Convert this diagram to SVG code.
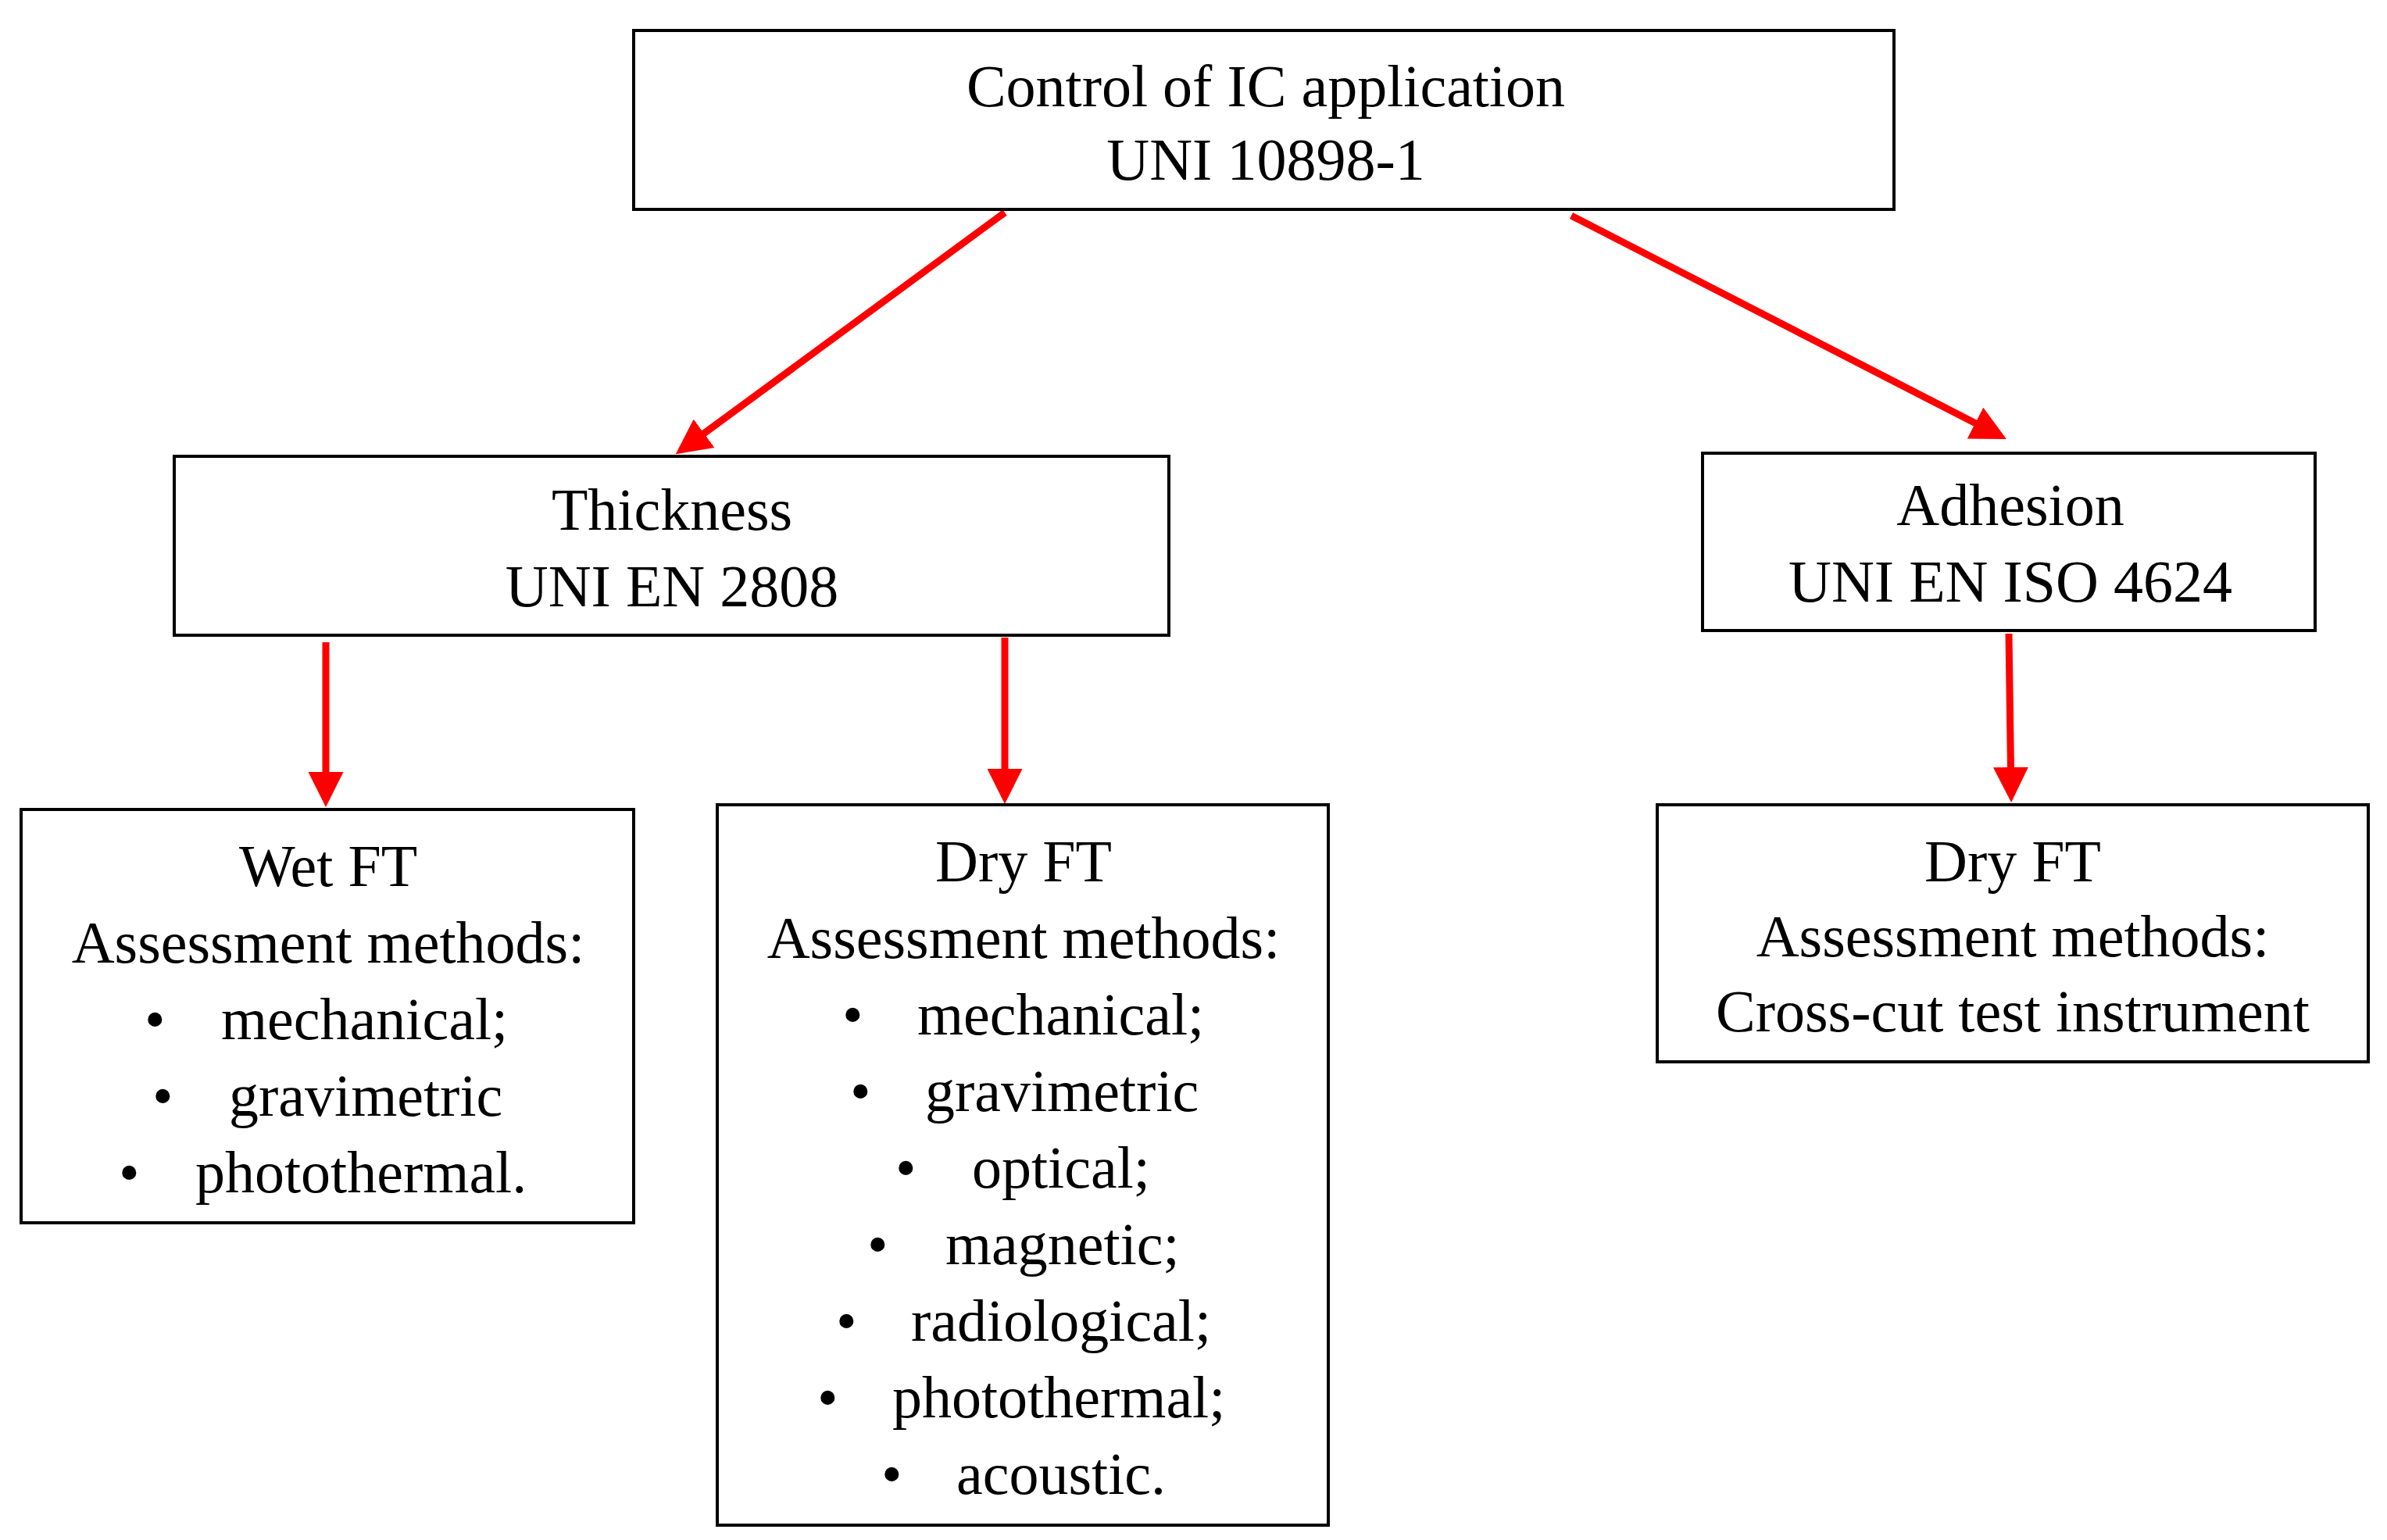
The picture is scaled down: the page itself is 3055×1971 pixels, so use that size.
<svg xmlns="http://www.w3.org/2000/svg" width="3055" height="1971" viewBox="0 0 3055 1971">
<style>
rect{fill:#fff;stroke:#000;stroke-width:4}
text{font-family:"Liberation Serif","Times New Roman",serif;font-size:76px;fill:#000;dominant-baseline:central}
.c{text-anchor:middle}
line{stroke:#f00;stroke-width:9}
</style>
<defs><marker id="a" markerWidth="5" markerHeight="5" refX="4" refY="2.5" orient="auto" markerUnits="strokeWidth"><path d="M0,0L5,2.5L0,5z" fill="#f00"/></marker></defs>
<rect width="3055" height="1971" style="stroke:none"/>
<g id="connectors">
<line x1="1286" y1="272" x2="872" y2="576" marker-end="url(#a)"/>
<line x1="2011" y1="276" x2="2560" y2="558" marker-end="url(#a)"/>
<line x1="417" y1="822" x2="417" y2="1024" marker-end="url(#a)"/>
<line x1="1286" y1="816" x2="1286" y2="1020" marker-end="url(#a)"/>
<line x1="2571" y1="811" x2="2574" y2="1018" marker-end="url(#a)"/>
</g>
<g id="top"><rect x="811" y="39" width="1613" height="229"/>
<text class="c" x="1620" y="110">Control of IC application</text><text class="c" x="1620" y="204">UNI 10898-1</text></g>
<g id="thickness"><rect x="223" y="584" width="1273" height="229"/>
<text class="c" x="860" y="652">Thickness</text><text class="c" x="860" y="750">UNI EN 2808</text></g>
<g id="adhesion"><rect x="2179" y="580" width="784" height="227"/>
<text class="c" x="2573" y="646">Adhesion</text><text class="c" x="2573" y="744">UNI EN ISO 4624</text></g>
<g id="wet"><rect x="27" y="1036" width="784" height="529"/>
<text class="c" x="420" y="1108">Wet FT</text><text class="c" x="420" y="1206">Assessment  methods:</text>
<text x="185" y="1304">•</text><text x="283" y="1304">mechanical;</text>
<text x="195" y="1402">•</text><text x="293" y="1402">gravimetric</text>
<text x="152" y="1500">•</text><text x="250" y="1500">photothermal.</text></g>
<g id="drymid"><rect x="918" y="1030" width="782" height="922"/>
<text class="c" x="1310" y="1102">Dry FT</text><text class="c" x="1310" y="1200">Assessment  methods:</text>
<text x="1078" y="1298">•</text><text x="1174" y="1298">mechanical;</text>
<text x="1088" y="1396">•</text><text x="1184" y="1396">gravimetric</text>
<text x="1146" y="1494">•</text><text x="1244" y="1494">optical;</text>
<text x="1110" y="1592">•</text><text x="1210" y="1592">magnetic;</text>
<text x="1070" y="1690">•</text><text x="1166" y="1690">radiological;</text>
<text x="1046" y="1788">•</text><text x="1142" y="1788">photothermal;</text>
<text x="1128" y="1886">•</text><text x="1224" y="1886">acoustic.</text></g>
<g id="dryright"><rect x="2121" y="1030" width="910" height="329"/>
<text class="c" x="2576" y="1102">Dry FT</text><text class="c" x="2576" y="1198">Assessment  methods:</text>
<text class="c" x="2576" y="1294">Cross-cut test instrument</text></g>
</svg>
